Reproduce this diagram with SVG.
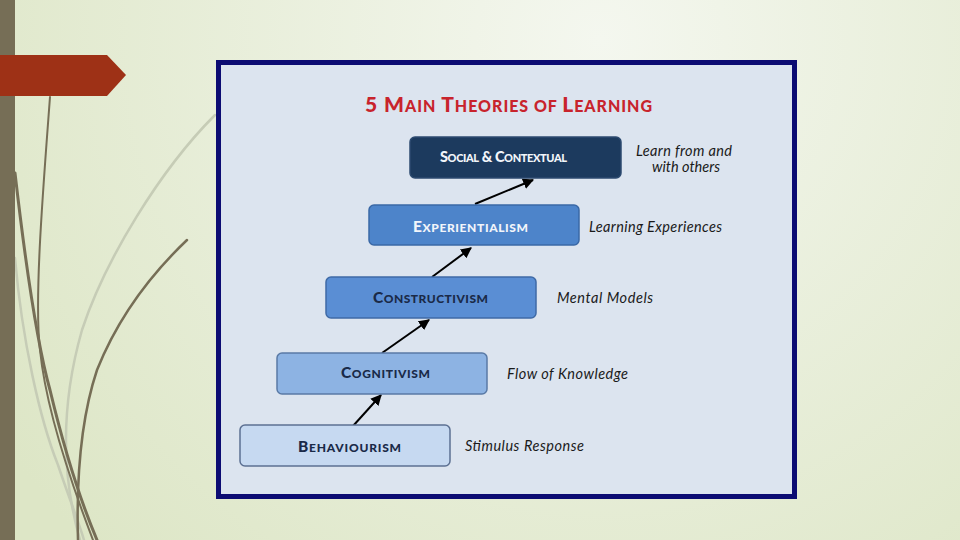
<svg xmlns="http://www.w3.org/2000/svg" width="960" height="540" viewBox="0 0 960 540">
  <defs>
    <radialGradient id="bg" cx="600" cy="40" r="720" gradientUnits="userSpaceOnUse">
      <stop offset="0" stop-color="#f4f7ef"/>
      <stop offset="1" stop-color="#dde6c6"/>
    </radialGradient>
    <marker id="arr" viewBox="0 0 10 10" refX="9" refY="5" markerWidth="5.5" markerHeight="5.5" orient="auto" markerUnits="strokeWidth">
      <path d="M0,0 L10,5 L0,10 Z" fill="#000"/>
    </marker>
    <style>
      .box { stroke-width: 1.5; }
      .bt { font-family: Lato, "Liberation Sans", sans-serif; font-weight: 900; font-size: 15.5px; }
      .sc { font-size: 12px; }
      .sc2 { font-size: 11px; }
      .lbl { font-family: Lato, "Liberation Sans", sans-serif; font-style: italic; font-size: 14.5px; fill: #1a1a1a; }
      .conn { stroke: #000; stroke-width: 2; fill: none; marker-end: url(#arr); }
      .deco { fill: none; stroke: #766e56; stroke-linecap: round; }
      .light { fill: none; stroke: #c6ccb6; stroke-linecap: round; }
    </style>
  </defs>

  <!-- background -->
  <rect x="0" y="0" width="960" height="540" fill="url(#bg)"/>

  <!-- decorative curves -->
  <g id="decoration">
    <path class="light" stroke-width="2.5" d="M215,115 C160,170 105,260 82,330 C62,400 60,470 80,540"/>
    <path class="light" stroke-width="2.5" d="M15,258 C22,340 40,420 58,465 C68,495 78,520 84,540"/>
    <path class="deco" stroke-width="2" d="M50,97 C43,190 34,300 40,350 C46,410 70,480 93,540"/>
    <path class="deco" stroke-width="3" d="M15,173 C25,260 36,340 50,390 C62,440 78,495 97,540"/>
    <path class="deco" stroke-width="2.5" d="M187,240 C145,280 115,325 97,370 C82,415 76,470 78,540"/>
    <rect x="0" y="0" width="15" height="540" fill="#766e56"/>
    <path d="M0,55 L107,55 L126,75 L107,96 L0,96 Z" fill="#9e3116"/>
  </g>

  <!-- frame -->
  <rect x="218.5" y="62.5" width="576" height="434" fill="#dce4ef" stroke="#0c0c73" stroke-width="5"/>

  <!-- title -->
  <text id="title" x="365" y="112" textLength="287" lengthAdjust="spacing" font-family="Lato, 'Liberation Sans', sans-serif" font-weight="900" fill="#c8232c" font-size="21">5 M<tspan font-size="16">AIN </tspan>T<tspan font-size="16">HEORIES OF </tspan>L<tspan font-size="16">EARNING</tspan></text>

  <!-- connectors -->
  <g id="connectors">
    <line class="conn" x1="353" y1="426" x2="381" y2="395"/>
    <line class="conn" x1="382" y1="353" x2="429" y2="320"/>
    <line class="conn" x1="432" y1="277" x2="471" y2="248"/>
    <line class="conn" x1="475" y1="204" x2="533" y2="180"/>
  </g>

  <!-- nodes -->
  <g id="social">
    <rect class="box" x="410" y="137" width="211" height="41" rx="5" fill="#1c3a5e" stroke="#2c4a70"/>
    <text class="bt" x="440" y="162" font-size="14.5" textLength="127" lengthAdjust="spacing" fill="#f2f5fa" style="font-size:14.5px">S<tspan class="sc2">OCIAL</tspan> &amp; C<tspan class="sc2">ONTEXTUAL</tspan></text>
    <text class="lbl" x="636" y="156" textLength="96" lengthAdjust="spacing">Learn from and</text>
    <text class="lbl" x="652" y="172" textLength="68" lengthAdjust="spacing">with others</text>
  </g>

  <g id="experientialism">
    <rect class="box" x="369" y="205" width="210" height="40" rx="5" fill="#4d84ca" stroke="#3a68a6"/>
    <text class="bt" x="413" y="232" textLength="115" lengthAdjust="spacing" fill="#f2f5fa">E<tspan class="sc">XPERIENTIALISM</tspan></text>
    <text class="lbl" x="589" y="232" textLength="133" lengthAdjust="spacing">Learning Experiences</text>
  </g>

  <g id="constructivism">
    <rect class="box" x="326" y="277" width="210" height="41" rx="5" fill="#5a8ed4" stroke="#3f6aa6"/>
    <text class="bt" x="373" y="303" textLength="115" lengthAdjust="spacing" fill="#1a2a48">C<tspan class="sc">ONSTRUCTIVISM</tspan></text>
    <text class="lbl" x="557" y="303" textLength="96" lengthAdjust="spacing">Mental Models</text>
  </g>

  <g id="cognitivism">
    <rect class="box" x="277" y="353" width="210" height="41" rx="5" fill="#8db3e3" stroke="#5a7aa6"/>
    <text class="bt" x="341" y="378" textLength="89" lengthAdjust="spacing" fill="#1a2a48">C<tspan class="sc">OGNITIVISM</tspan></text>
    <text class="lbl" x="507" y="379" textLength="121" lengthAdjust="spacing">Flow of Knowledge</text>
  </g>

  <g id="behaviourism">
    <rect class="box" x="240" y="425" width="210" height="41" rx="5" fill="#c6d9f1" stroke="#5c7092"/>
    <text class="bt" x="298" y="452" textLength="103" lengthAdjust="spacing" fill="#1a2a48">B<tspan class="sc">EHAVIOURISM</tspan></text>
    <text class="lbl" x="465" y="451" textLength="119" lengthAdjust="spacing">Stimulus Response</text>
  </g>
</svg>
